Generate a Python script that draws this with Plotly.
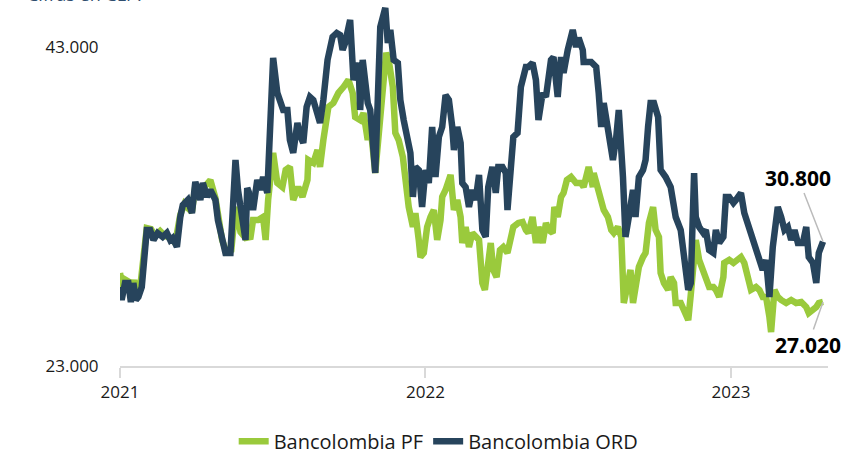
import plotly.graph_objects as go

ord_dates = [
    "2021-01-01","2021-01-03","2021-01-07","2021-01-11","2021-01-14","2021-01-17","2021-01-20","2021-01-23","2021-01-27","2021-01-29",
    "2021-02-02","2021-02-06","2021-02-10","2021-02-15","2021-02-21","2021-02-26","2021-03-02","2021-03-05","2021-03-10","2021-03-14",
    "2021-03-17","2021-03-23","2021-03-28","2021-04-01","2021-04-07","2021-04-10","2021-04-15","2021-04-19","2021-04-25","2021-04-28",
    "2021-05-03","2021-05-07","2021-05-13","2021-05-16","2021-05-19","2021-05-22","2021-05-27","2021-05-31","2021-06-02","2021-06-06",
    "2021-06-09","2021-06-14","2021-06-18","2021-06-21","2021-06-26","2021-06-28","2021-07-03","2021-07-08","2021-07-15","2021-07-20",
    "2021-07-23","2021-07-27","2021-08-01","2021-08-04","2021-08-08","2021-08-12","2021-08-16","2021-08-20","2021-08-25","2021-08-28",
    "2021-09-01","2021-09-06","2021-09-12","2021-09-17","2021-09-21","2021-09-24","2021-09-27","2021-10-03","2021-10-07","2021-10-13",
    "2021-10-15","2021-10-18","2021-10-24","2021-10-27","2021-11-02","2021-11-05","2021-11-08","2021-11-14","2021-11-17","2021-11-20",
    "2021-11-24","2021-11-29","2021-12-02","2021-12-06","2021-12-11","2021-12-14","2021-12-17","2021-12-20","2021-12-24","2021-12-28",
    "2022-01-01","2022-01-05","2022-01-09","2022-01-13","2022-01-17","2022-01-21","2022-01-25","2022-01-29","2022-02-02","2022-02-04",
    "2022-02-08","2022-02-12","2022-02-14","2022-02-18","2022-02-22","2022-02-26","2022-03-02","2022-03-06","2022-03-10","2022-03-14",
    "2022-03-17","2022-03-22","2022-03-26","2022-03-29","2022-04-03","2022-04-07","2022-04-09","2022-04-13","2022-04-16","2022-04-21",
    "2022-04-25","2022-05-01","2022-05-04","2022-05-09","2022-05-13","2022-05-16","2022-05-21","2022-05-25","2022-05-31","2022-06-03",
    "2022-06-08","2022-06-12","2022-06-15","2022-06-20","2022-06-26","2022-06-30","2022-07-03","2022-07-08","2022-07-09","2022-07-18",
    "2022-07-24","2022-07-27","2022-07-30","2022-08-02","2022-08-07","2022-08-08","2022-08-13","2022-08-17","2022-08-20","2022-08-25",
    "2022-08-28","2022-09-01","2022-09-06","2022-09-09","2022-09-13","2022-09-18","2022-09-21","2022-09-24","2022-09-27","2022-10-01",
    "2022-10-06","2022-10-09","2022-10-15","2022-10-21","2022-10-27","2022-11-02","2022-11-06","2022-11-11","2022-11-14","2022-11-18",
    "2022-11-20","2022-11-24","2022-11-29","2022-12-02","2022-12-06","2022-12-11","2022-12-14","2022-12-18","2022-12-23","2022-12-26",
    "2022-12-30","2023-01-04","2023-01-07","2023-01-13","2023-01-17","2023-01-22","2023-01-25","2023-01-31","2023-02-04","2023-02-08",
    "2023-02-12","2023-02-16","2023-02-20","2023-02-26","2023-03-02","2023-03-06","2023-03-10","2023-03-14","2023-03-18","2023-03-22",
    "2023-03-28","2023-04-01","2023-04-04","2023-04-09","2023-04-13","2023-04-16","2023-04-21",
]
ord_values = [
    27950,27140,28200,28200,27010,28200,27140,27330,27950,29650,
    31530,31530,30900,31340,31090,31340,30900,31030,30460,32340,
    33090,33410,32590,34540,33410,34470,33600,34040,33410,32150,
    31090,30090,30090,32970,35920,34040,31970,30900,34160,33600,
    32780,34660,34040,34850,33850,37170,42310,40120,39050,39050,
    37170,36360,38240,37480,36980,39240,39870,39680,38930,38240,
    39680,42190,43630,43880,43750,42810,43250,44690,40930,42000,
    39050,42190,39490,39050,35100,40740,44260,45450,43250,44070,
    42190,42000,39680,38420,36980,36360,33600,35480,35290,32970,
    35290,34470,37990,34850,37360,37990,39990,39680,37990,36540,
    37990,36980,34470,34220,32970,34040,33410,34980,31530,31090,
    34220,35480,33850,35480,35480,35100,32780,35730,37360,37610,
    40490,41750,41750,42000,40930,38420,40120,39870,42190,42370,
    39870,42370,41370,42810,44070,43000,43570,42810,42060,42060,
    41750,40120,37990,39490,37800,36980,35920,37360,39050,34850,
    31090,32340,34040,32340,34850,35290,35920,37990,39490,39490,
    38610,35290,34850,34220,32340,31530,29830,27770,28200,35100,
    32340,31720,31340,31530,30270,30090,31530,30710,31090,33600,
    33600,33220,33410,33850,32590,31720,31340,30460,29650,29020,
    29650,27330,30460,32970,32340,31530,31720,30900,31530,30710,
    30710,31720,29830,29460,28200,30090,30800,
]

pf_dates = [
    "2021-01-01","2021-01-05","2021-01-08","2021-01-12","2021-01-14","2021-01-18","2021-01-21","2021-01-25","2021-01-29","2021-02-02",
    "2021-02-07","2021-02-12","2021-02-18","2021-02-24","2021-03-02","2021-03-08","2021-03-14","2021-03-19","2021-03-23","2021-03-28",
    "2021-04-01","2021-04-07","2021-04-13","2021-04-19","2021-04-25","2021-04-30","2021-05-03","2021-05-08","2021-05-14","2021-05-19",
    "2021-05-25","2021-05-31","2021-06-06","2021-06-09","2021-06-15","2021-06-21","2021-06-24","2021-06-27","2021-07-03","2021-07-08",
    "2021-07-14","2021-07-18","2021-07-23","2021-07-27","2021-08-02","2021-08-07","2021-08-13","2021-08-14","2021-08-20","2021-08-25",
    "2021-08-28","2021-09-01","2021-09-07","2021-09-13","2021-09-19","2021-09-25","2021-10-01","2021-10-06","2021-10-09","2021-10-15",
    "2021-10-19","2021-10-24","2021-10-27","2021-11-02","2021-11-06","2021-11-11","2021-11-15","2021-11-18","2021-11-23","2021-11-26",
    "2021-11-30","2021-12-05","2021-12-08","2021-12-12","2021-12-17","2021-12-20","2021-12-24","2021-12-26","2021-12-30","2022-01-03",
    "2022-01-07","2022-01-11","2022-01-15","2022-01-19","2022-01-21","2022-01-25","2022-01-31","2022-02-04","2022-02-08","2022-02-12",
    "2022-02-14","2022-02-18","2022-02-22","2022-02-26","2022-03-06","2022-03-10","2022-03-13","2022-03-16","2022-03-20","2022-03-23",
    "2022-03-27","2022-03-31","2022-04-04","2022-04-09","2022-04-13","2022-04-16","2022-04-22","2022-04-27","2022-05-01","2022-05-04",
    "2022-05-09","2022-05-13","2022-05-16","2022-05-21","2022-05-25","2022-05-28","2022-06-02","2022-06-04","2022-06-08","2022-06-12",
    "2022-06-15","2022-06-19","2022-06-24","2022-06-30","2022-07-06","2022-07-09","2022-07-15","2022-07-20","2022-07-21","2022-07-26",
    "2022-07-30","2022-08-02","2022-08-07","2022-08-11","2022-08-14","2022-08-19","2022-08-23","2022-08-26","2022-08-31","2022-09-03",
    "2022-09-06","2022-09-09","2022-09-13","2022-09-18","2022-09-21","2022-09-25","2022-09-30","2022-10-03","2022-10-07","2022-10-09",
    "2022-10-13","2022-10-18","2022-10-21","2022-10-25","2022-10-27","2022-11-02","2022-11-06","2022-11-11","2022-11-14","2022-11-18",
    "2022-11-20","2022-11-24","2022-11-29","2022-12-02","2022-12-06","2022-12-11","2022-12-14","2022-12-18","2022-12-23","2022-12-24",
    "2022-12-30","2023-01-04","2023-01-10","2023-01-13","2023-01-17","2023-01-22","2023-01-25","2023-01-31","2023-02-04","2023-02-08",
    "2023-02-12","2023-02-16","2023-02-18","2023-02-22","2023-02-26","2023-03-02","2023-03-08","2023-03-14","2023-03-20","2023-03-26",
    "2023-04-01","2023-04-04","2023-04-09","2023-04-13","2023-04-16","2023-04-21",
]
pf_values = [
    28830,27770,28390,28270,27390,28390,27390,27890,29770,31650,
    31590,31150,31460,31150,31030,30710,32470,33160,32910,32660,
    34290,33720,34290,34660,33530,32030,30900,30150,30270,32970,
    31400,31030,31090,32150,32150,32340,30900,33410,36360,34470,
    34220,35290,35480,33410,34220,33600,34660,35920,35730,36540,
    35480,37170,39240,39490,40120,40490,40930,40120,38610,38420,
    38860,37170,38240,35100,37170,40120,42630,42190,40490,37610,
    37170,36100,34660,32970,31720,32590,30900,29830,30090,31720,
    32340,32780,30900,32150,33600,34040,34980,32780,33410,32340,
    30710,31720,30460,31340,30900,28200,27770,29020,30710,29020,
    28580,30270,30460,30090,30900,31720,31970,32030,31530,31340,
    32340,30710,31720,30710,31970,31530,31340,32970,32340,33600,
    33850,34660,34850,34470,34470,34220,35480,34220,35100,34220,
    33600,32780,32340,31530,31340,31720,31090,26950,28200,29020,
    26950,27950,29210,29830,30090,31970,32970,31530,31090,28830,
    28200,27770,28580,28200,26950,26950,26510,25880,27450,30270,
    30900,29650,29020,28390,27950,27950,27770,27330,28580,29460,
    29650,29460,29650,29830,29460,28580,27770,27950,27770,27330,
    27330,26070,25130,27770,27330,27140,26950,27140,26950,27010,
    26700,26320,26510,26700,26950,27020,
]

y_ticks = [23000, 43000]
x_ticks = ["2021-01-01", "2022-01-01", "2023-01-01"]
x_tick_labels = ["2021", "2022", "2023"]
last_ord = ord_values[-1]
last_pf = pf_values[-1]

GREEN = "#9aca3c"
NAVY = "#27445c"
FONT = "Open Sans"

fig = go.Figure()
fig.add_trace(go.Scatter(x=pf_dates, y=pf_values, mode="lines", name="Bancolombia PF",
                         line=dict(color=GREEN, width=6.5)))
fig.add_trace(go.Scatter(x=ord_dates, y=ord_values, mode="lines", name="Bancolombia ORD",
                         line=dict(color=NAVY, width=6.5)))

fig.update_layout(
    width=866, height=455,
    margin=dict(l=120, r=38, t=5, b=89, autoexpand=False),
    paper_bgcolor="white", plot_bgcolor="white",
    separators=",.",
    font=dict(family=FONT, size=18, color="#1a1a1a"),
    showlegend=True,
    legend=dict(orientation="h", xref="container", yref="container",
                x=0.506, xanchor="center", y=0.03, yanchor="middle",
                font=dict(family=FONT, size=20, color="#1a1a1a"), traceorder="normal"),
    xaxis=dict(range=["2021-01-01", "2023-04-27"], tickvals=x_ticks, ticktext=x_tick_labels,
               showgrid=False, zeroline=False, showline=True, linecolor="#d9d9d9", linewidth=2,
               ticks="outside", ticklen=10, tickwidth=2, tickcolor="#d9d9d9",
               tickfont=dict(family=FONT, size=17, color="#1a1a1a")),
    yaxis=dict(range=[23000, 45633], tickvals=y_ticks, tickformat=",.0f",
               showgrid=False, zeroline=False, showline=False,
               ticks="outside", ticklen=17, tickcolor="rgba(0,0,0,0)",
               tickfont=dict(family=FONT, size=17, color="#1a1a1a")),
    annotations=[
        dict(text="Cifras en CLP.", xref="paper", yref="paper", x=-0.134, y=0.9917,
             xanchor="left", yanchor="bottom", showarrow=False,
             font=dict(family=FONT, size=18, color="#2f4d6e")),
        dict(text="<b>30.800</b>", x=ord_dates[-1], y=last_ord, xref="x", yref="y",
             showarrow=True, arrowhead=0, arrowcolor="#bbbbbb", arrowwidth=1.5,
             ax=-25, ay=-64, font=dict(family=FONT, size=21, color="#000000")),
        dict(text="<b>27.020</b>", x=pf_dates[-1], y=last_pf, xref="x", yref="y",
             showarrow=True, arrowhead=0, arrowcolor="#bbbbbb", arrowwidth=1.5,
             ax=-15, ay=43, font=dict(family=FONT, size=21, color="#000000")),
    ],
)

fig.write_html("out.html")
